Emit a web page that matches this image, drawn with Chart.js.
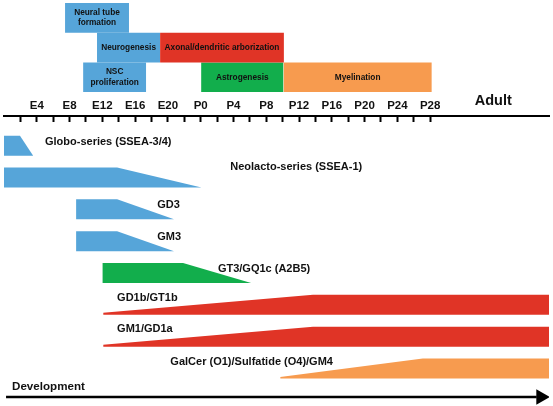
<!DOCTYPE html>
<html>
<head>
<meta charset="utf-8">
<script src="https://cdn.jsdelivr.net/npm/chart.js@4/dist/chart.umd.min.js"></script>
<style>
  html, body { margin: 0; padding: 0; background: #fff; }
  canvas { display: block; }
</style>
</head>
<body>
<canvas id="myChart" width="553" height="406"></canvas>
<script>
// time axis: days counted from E0 (P0 sits at 24)
var tickPos = [2, 4, 6, 8, 10, 12, 14, 16, 18, 20, 22, 24, 26, 28, 30, 32, 34, 36, 38, 40, 42, 44, 46, 48, 50, 52];
var tickNamePos = [4, 8, 12, 16, 20, 24, 28, 32, 36, 40, 44, 48, 52];
var tickNames = ['E4', 'E8', 'E12', 'E16', 'E20', 'P0', 'P4', 'P8', 'P12', 'P16', 'P20', 'P24', 'P28'];

// developmental processes (boxes on top)
var phaseNames = ['Neural tube\nformation', 'Neurogenesis', 'NSC\nproliferation', 'Axonal/dendritic arborization', 'Astrogenesis', 'Myelination'];
var phaseStart = [7.45, 11.35, 9.65, 19.05, 24.05, 34.1];
var phaseEnd = [15.25, 19.05, 17.35, 34.15, 34.1, 52.2];
var phaseRow = [0, 1, 2, 1, 2, 2];
var phaseColor = ['blue', 'blue', 'blue', 'red', 'green', 'orange'];

// glycolipid expression profiles: time points and relative level
var lipidNames = ['Globo-series (SSEA-3/4)', 'Neolacto-series (SSEA-1)', 'GD3', 'GM3', 'GT3/GQ1c (A2B5)', 'GD1b/GT1b', 'GM1/GD1a', 'GalCer (O1)/Sulfatide (O4)/GM4'];
var globoT = [0, 1.95, 3.55],   globoL = [1, 1, 0];
var neoT = [0, 13.8, 24.1],     neoL = [1, 1, 0];
var gd3T = [8.8, 13.8, 20.75],  gd3L = [1, 1, 0];
var gm3T = [8.8, 13.8, 20.75],  gm3L = [1, 1, 0];
var gt3T = [12, 21.85, 30.15],  gt3L = [1, 1, 0];
var gd1bT = [12.1, 37.7, 66.5], gd1bL = [0.1, 1, 1];
var gm1T = [12.1, 37.7, 66.5],  gm1L = [0.1, 1, 1];
var galT = [33.7, 51.1, 66.5],  galL = [0.08, 1, 1];
var lipidColor = ['blue', 'blue', 'blue', 'blue', 'green', 'red', 'red', 'orange'];
var lipidLabelAt = [5.0, 27.6, 18.7, 18.7, 26.1, 13.8, 13.8, 20.3];

var COLORS = { blue: '#56a5d9', red: '#e03426', green: '#12ae4c', orange: '#f79b4f' };

// layout (y scale runs in canvas pixels, top to bottom)
var L = {
  phaseTop: 3, phaseH: 29.7,
  axisY: 116,
  laneBase: 155.7, lanePitch: 31.83, laneH: 20,
  labelDy: [6, -1, 6, 6, 6, 3, 2, 3],
  arrowY: 397
};

var lipidT = [globoT, neoT, gd3T, gm3T, gt3T, gd1bT, gm1T, galT];
var lipidL = [globoL, neoL, gd3L, gm3L, gt3L, gd1bL, gm1L, galL];

var datasets = [];

phaseNames.forEach(function (n, i) {
  var top = L.phaseTop + phaseRow[i] * L.phaseH;
  datasets.push({
    data: [{x: phaseStart[i], y: top}, {x: phaseEnd[i], y: top}],
    backgroundColor: COLORS[phaseColor[i]],
    borderColor: 'transparent', borderWidth: 0, pointRadius: 0,
    fill: {value: top + L.phaseH}
  });
});

lipidNames.forEach(function (n, i) {
  var bottom = L.laneBase + i * L.lanePitch;
  var pts = [];
  for (var k = 0; k < lipidT[i].length; k++) {
    pts.push({x: lipidT[i][k], y: bottom - lipidL[i][k] * L.laneH});
  }
  datasets.push({
    data: pts,
    backgroundColor: COLORS[lipidColor[i]],
    borderColor: 'transparent', borderWidth: 0, pointRadius: 0,
    fill: {value: bottom}
  });
});

// development arrow
datasets.push({
  data: [{x: 0.25, y: L.arrowY}, {x: 65, y: L.arrowY}],
  borderColor: '#000', borderWidth: 2.5, pointRadius: 0, fill: false
});
datasets.push({
  data: [{x: 65.5, y: L.arrowY}],
  showLine: false, pointStyle: 'triangle', rotation: 90,
  pointRadius: 9, backgroundColor: '#000', borderWidth: 0, fill: false
});

var textPlugin = {
  id: 'texts',
  afterDraw: function (chart) {
    var ctx = chart.ctx, x = chart.scales.x, y = chart.scales.y;
    ctx.save();
    ctx.fillStyle = '#111';
    ctx.textBaseline = 'middle';

    ctx.font = 'bold 8.3px "Liberation Sans"';
    ctx.textAlign = 'center';
    phaseNames.forEach(function (n, i) {
      var cx = x.getPixelForValue((phaseStart[i] + phaseEnd[i]) / 2);
      var cy = y.getPixelForValue(L.phaseTop + (phaseRow[i] + 0.5) * L.phaseH);
      var lines = n.split('\n');
      lines.forEach(function (ln, k) {
        ctx.fillText(ln, cx, cy + (k - (lines.length - 1) / 2) * 10.5);
      });
    });

    ctx.font = 'bold 11px "Liberation Sans"';
    ctx.textAlign = 'left';
    lipidNames.forEach(function (n, i) {
      var top = L.laneBase + i * L.lanePitch - L.laneH;
      ctx.fillText(n, x.getPixelForValue(lipidLabelAt[i]), y.getPixelForValue(top + L.labelDy[i]));
    });

    ctx.font = 'bold 11.6px "Liberation Sans"';
    ctx.fillText('Development', x.getPixelForValue(0.98), y.getPixelForValue(L.arrowY - 10));

    ctx.font = 'bold 14.5px "Liberation Sans"';
    ctx.textAlign = 'center';
    ctx.fillText('Adult', x.getPixelForValue(59.7), y.getPixelForValue(L.axisY - 15));
    ctx.restore();
  }
};

var ctx = document.getElementById('myChart').getContext('2d');
var myChart = new Chart(ctx, {
  type: 'line',
  data: { datasets: datasets },
  options: {
    responsive: false,
    animation: false,
    events: [],
    layout: { autoPadding: false, padding: {left: 4, right: 4, top: 0, bottom: 0} },
    plugins: { legend: {display: false}, tooltip: {enabled: false} },
    scales: {
      x: {
        type: 'linear', min: 0, max: 66.5,
        position: {y: L.axisY},
        afterBuildTicks: function (s) {
          s.ticks = tickPos.map(function (v) { return {value: v}; });
        },
        grid: { drawOnChartArea: false, drawTicks: true, tickLength: 5, tickWidth: 2, tickColor: '#000' },
        border: { display: true, width: 2, color: '#000' },
        ticks: {
          autoSkip: false, maxRotation: 0, padding: -22, color: '#111',
          font: { family: 'Liberation Sans', size: 11.5, weight: 'bold' },
          callback: function (v) {
            var k = tickNamePos.indexOf(v);
            return k >= 0 ? tickNames[k] : '';
          }
        }
      },
      y: { type: 'linear', min: 0, max: 406, reverse: true, display: false }
    }
  },
  plugins: [textPlugin]
});
</script>
</body>
</html>
